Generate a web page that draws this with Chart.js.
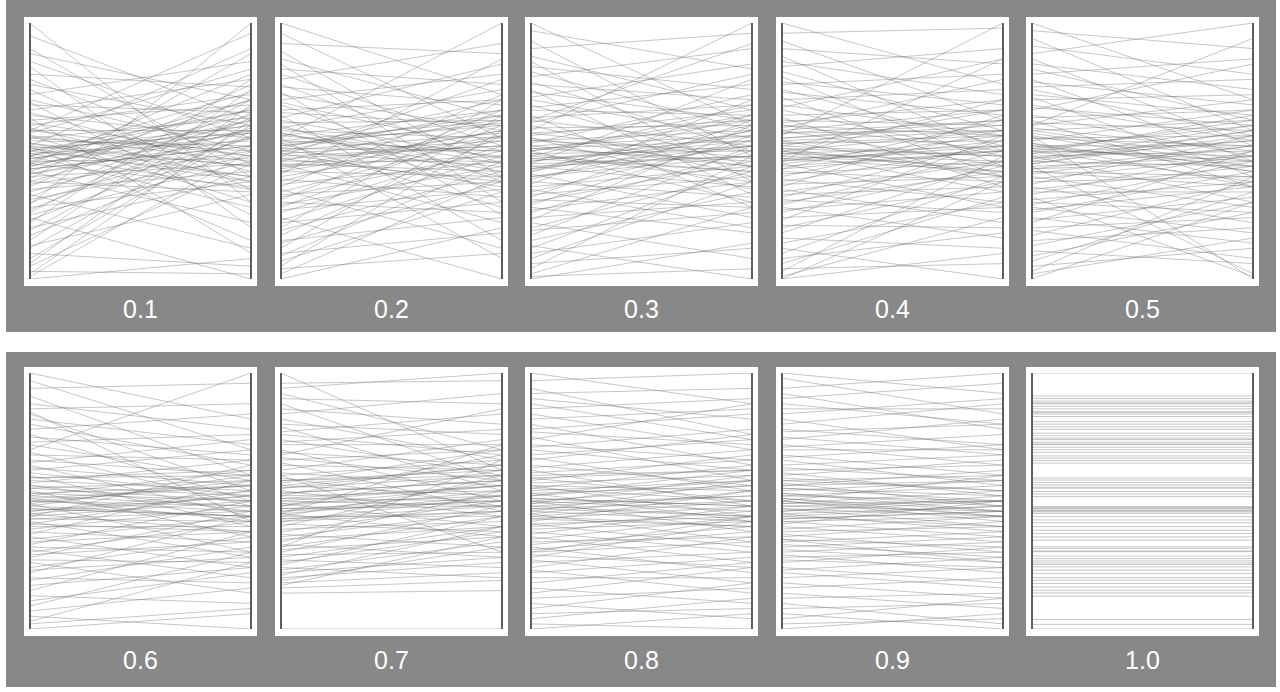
<!DOCTYPE html>
<html><head><meta charset="utf-8">
<script src="https://cdn.jsdelivr.net/npm/chart.js@4.4.1/dist/chart.umd.min.js"></script>
<style>
html,body{margin:0;padding:0;background:#fff;}
body{width:1280px;height:692px;overflow:hidden;position:relative;font-family:"Liberation Sans",Arial,sans-serif;}
.band{position:absolute;left:6px;width:1270px;background:#888888;}
.panel{position:absolute;width:233px;height:269px;background:#fff;}
.panel canvas{display:block;}
.label{position:absolute;width:233px;text-align:center;color:#fff;font-size:25px;line-height:28px;}
</style></head>
<body>
<script>
// ---- data (each axis scaled 0..100) ----
const panelLabels = ['0.1','0.2','0.3','0.4','0.5','0.6','0.7','0.8','0.9','1.0'];

const left01 = [100,0,95,90,88,85,83,80,78,76,74,72,70,69,68,66,65,64,63,62,61,60,59,58,57,56,55,54,53,52,52,51,50,50,49,48,48,47,46,45,45,44,43,42,42,41,40,39,38,38,37,36,35,34,33,32,31,30,29,28,27,26,25,24,23,22,20,19,17,15,13,12,10,8,6,5,3,2,1,58,47,52,44,55,49,41,58,46,53,50,43,56,48,51,45];
const right01 = [30,8,62,40,70,55,20,75,45,60,35,85,50,25,65,78,42,55,10,68,48,72,38,58,82,30,63,52,44,90,15,57,66,40,54,73,28,60,47,80,36,64,52,22,70,58,45,88,62,34,50,76,42,59,12,67,48,55,100,38,63,70,46,0,56,78,40,65,52,74,33,60,5,58,68,45,2,62,50,96,58,44,62,50,35,55,48,70,40,60,52,46,66,38,57];

const left02 = [100,0,96,92,89,86,84,82,80,78,76,75,73,72,70,69,68,66,65,64,63,62,61,60,59,58,57,56,55,54,53,52,51,50,50,49,48,47,46,45,44,43,42,41,40,39,38,37,36,35,34,33,32,31,30,29,28,27,26,24,23,22,20,19,17,15,14,12,10,9,7,5,4,2,55,48,53,45,56,50,42,59,47,54,51,44,57,49,52,46];
const right02 = [72,20,55,88,40,63,30,76,52,92,45,68,25,58,80,50,38,70,60,15,84,47,62,34,74,55,42,66,100,50,28,61,70,44,57,36,78,52,64,22,48,58,40,86,54,32,62,46,72,12,56,38,50,66,26,44,60,35,52,0,48,30,70,42,56,24,38,64,18,46,34,58,10,40,8,52,60,42,48,66,56,45,38,62,50,58,40,54,64,46];

const left03 = [100,0,97,93,90,87,85,83,81,79,77,76,74,73,71,70,68,67,66,64,63,62,61,60,59,58,57,56,55,54,53,52,51,50,50,49,48,47,46,45,44,43,42,41,40,39,38,37,36,35,34,33,32,31,30,29,28,27,26,24,23,22,20,19,17,15,13,12,10,8,6,4,2,1,62,46,51,43,54,48,40,57,45,52,49,42,55,47,50,44];
const right03 = [60,14,82,48,96,66,38,74,58,90,50,70,33,62,84,55,44,76,64,28,68,52,80,40,60,100,47,66,35,58,72,44,54,62,30,50,68,42,56,78,36,52,64,24,48,58,32,70,44,20,54,40,62,28,46,56,18,38,50,30,60,8,42,26,52,34,0,44,22,38,12,48,28,4,92,54,46,60,50,42,52,62,48,56,38,58,44,52,64,48];

const left04 = [100,0,0,1,96,93,90,87,85,83,81,79,77,76,74,73,71,70,68,67,66,64,63,62,61,60,59,58,57,56,55,54,53,52,51,50,50,49,48,47,46,45,44,43,42,41,40,39,38,37,36,35,34,33,32,31,30,29,28,27,26,24,23,21,20,18,16,14,12,10,8,6,4,3,46,49,54,46,57,51,43,60,48,55,52,45,58,50,53,47];
const right04 = [76,10,38,24,98,62,84,50,72,90,58,44,68,80,52,64,40,74,56,86,48,66,36,60,70,50,78,44,58,100,62,40,54,66,48,58,34,52,70,42,56,28,50,62,38,46,58,30,52,40,64,22,46,36,54,26,42,50,16,34,44,28,56,20,38,46,12,30,0,40,18,32,6,48,86,46,58,52,62,40,50,56,44,60,48,54,66,42,56,50];

const left05 = [100,0,97,94,91,88,86,84,82,80,78,77,75,74,72,71,70,68,67,66,64,63,62,61,60,59,58,57,56,55,54,53,52,51,50,50,49,48,47,46,45,44,43,42,41,40,39,38,37,36,35,34,33,32,31,30,29,28,27,26,24,23,22,20,19,17,15,13,11,9,7,5,3,2,60,48,52,45,55,50,42,58,46,53,49,44,56,47,51,43];
const right05 = [70,30,90,58,80,100,52,74,62,86,46,68,78,56,64,40,72,54,60,84,48,66,36,58,70,50,62,44,0,56,66,42,52,60,38,48,64,30,54,44,58,2,46,36,52,28,48,40,56,22,44,34,50,1,38,26,46,18,36,42,14,32,50,24,8,38,20,30,6,26,34,12,40,16,94,50,44,56,52,62,40,46,58,36,54,48,42,60,46,52];

const left06 = [100,0,97,94,91,88,86,84,82,80,78,76,75,73,72,70,69,68,66,65,64,63,62,61,60,59,58,57,56,55,54,53,52,51,50,50,49,48,47,46,45,44,43,42,41,40,39,38,37,36,35,34,33,32,31,30,29,28,27,26,24,23,22,20,19,17,15,13,11,9,7,5,3,2,85,47,53,44,56,50,41,59,46,52,49,43,55,48,51,45];
const right06 = [82,6,70,96,60,78,88,54,72,64,84,50,68,76,58,100,48,66,60,74,44,56,70,52,40,62,54,66,46,58,36,50,62,42,56,48,30,60,44,52,38,64,46,28,54,40,48,34,58,24,44,38,50,30,20,42,34,46,26,14,36,28,44,18,32,24,38,10,22,30,16,0,26,8,42,44,56,50,52,46,38,60,54,48,58,42,50,44,56,52];

const left07 = [100,96,0,94,92,90,88,86,84,82,80,79,77,76,74,73,72,70,69,68,67,66,65,64,62,61,60,59,58,57,56,55,54,53,52,51,50,49,48,47,46,45,44,43,42,41,40,39,38,37,36,35,34,33,32,31,30,29,28,27,26,25,24,23,22,21,20,19,18,17,16,14,32,60,45,48,52,45,55,50,42,58,46,53,49,44,56,47,51,43];
const right07 = [62,97,0,100,70,88,58,80,92,66,76,54,84,68,60,78,72,50,64,86,58,70,46,62,74,56,66,48,60,70,52,64,44,58,68,50,56,40,62,48,54,36,58,46,52,38,60,42,50,32,46,40,54,28,44,36,48,30,40,24,38,44,20,34,28,40,26,32,22,36,19,15,66,30,72,56,54,52,60,48,46,62,50,58,52,44,64,50,56,48];

const left08 = [100,0,97,94,92,90,88,86,84,82,80,78,77,75,74,72,71,70,68,67,66,64,63,62,61,60,59,58,57,56,55,54,53,52,51,50,50,49,48,47,46,45,44,43,42,41,40,39,38,37,36,35,34,33,32,31,30,29,28,27,26,24,23,22,20,18,16,14,12,10,8,6,4,2,30,47,53,44,56,50,41,59,46,52,49,43,55,48,51,45];
const right08 = [88,6,100,76,94,82,74,90,70,86,64,84,72,58,88,66,78,62,74,54,76,56,70,48,66,62,50,68,60,44,64,58,42,62,48,56,38,60,52,44,58,34,50,40,54,32,46,42,30,48,26,44,36,40,22,38,34,24,42,18,30,36,14,28,20,26,10,24,16,4,18,8,12,0,44,50,56,40,54,46,44,62,42,58,52,48,50,44,48,54];

const left09 = [100,98,0,94,92,90,88,86,84,82,80,78,77,75,74,72,71,70,68,67,66,64,63,62,61,60,59,58,57,56,55,54,53,52,51,50,50,49,48,47,46,45,44,43,42,41,40,39,38,37,36,35,34,33,32,31,30,29,28,27,26,24,23,22,20,18,16,14,12,10,8,6,4,2,35,48,52,45,55,50,42,58,46,53,49,44,56,47,51,43];
const right09 = [92,84,6,100,78,96,80,86,90,70,88,72,80,68,82,64,76,70,60,72,56,68,58,64,52,66,54,60,48,62,50,58,46,56,44,60,42,54,50,40,52,38,48,46,36,50,34,44,40,30,42,32,38,28,36,26,34,22,30,24,32,18,28,16,24,12,20,8,14,2,10,0,12,4,26,46,50,48,52,44,44,54,50,48,50,40,58,44,46,46];

const left10 = [100,91,90,89,88.3,88,87,86,85,84.5,84,83,81,80,79,78,76.5,75.5,74.5,74,73,72.3,72,71,70,69,67.6,66.7,65.8,64.8,59,58.2,57.2,56.3,55.4,55,53.7,52.7,51.7,47.8,47.4,47.1,46.5,46.2,45.8,45.2,43.9,42.6,41.5,40,38.6,37.3,36,34.7,32.1,31.5,30.5,30.2,28.5,27.5,26.6,25.8,25.2,24.3,23,21.7,20.1,19.1,17.8,16.4,15.1,14.1,12.8,3.7,1.8,0];
const right10 = [100,91,90,89,88.3,88,87,86,85,84.5,84,83,81,80,79,78,76.5,75.5,74.5,74,73,72.3,72,71,70,69,67.6,66.7,65.8,64.8,59,58.2,57.2,56.3,55.4,55,53.7,52.7,51.7,47.8,47.4,47.1,46.5,46.2,45.8,45.2,43.9,42.6,41.5,40,38.6,37.3,36,34.7,32.1,31.5,30.5,30.2,28.5,27.5,26.6,25.8,25.2,24.3,23,21.7,20.1,19.1,17.8,16.4,15.1,14.1,12.8,3.7,1.8,0];

const leftSeries = [left01,left02,left03,left04,left05,left06,left07,left08,left09,left10];
const rightSeries = [right01,right02,right03,right04,right05,right06,right07,right08,right09,right10];

// ---- layout ----
function addEl(cls, css){
  const d = document.createElement('div');
  d.className = cls;
  Object.assign(d.style, css);
  document.body.appendChild(d);
  return d;
}
addEl('band', {top:'0px', height:'332px'});
addEl('band', {top:'352px', height:'335px'});

panelLabels.forEach((lab, i) => {
  const col = i % 5, row = Math.floor(i / 5);
  const x = Math.round(24 + col * 250.5);
  const y = row === 0 ? 17 : 367;
  const p = addEl('panel', {left:x+'px', top:y+'px'});
  const c = document.createElement('canvas');
  c.width = 233; c.height = 269;
  c.style.width = '233px'; c.style.height = '269px';
  p.appendChild(c);
  const t = addEl('label', {left:x+'px', top:(row === 0 ? 295 : 646)+'px'});
  t.textContent = lab;

  const L = leftSeries[i], R = rightSeries[i];
  const datasets = L.map((v, k) => ({
    data: [{x:0, y:v}, {x:1, y:R[k]}],
    borderColor: 'rgba(100,100,100,0.36)',
    borderWidth: 1,
    pointRadius: 0,
    tension: 0,
    fill: false
  }));
  new Chart(c.getContext('2d'), {
    type: 'line',
    data: {datasets},
    options: {
      responsive: false,
      animation: false,
      events: [],
      layout: {padding: {left: 6, right: 6, top: 6, bottom: 7}},
      plugins: {legend: {display: false}, tooltip: {enabled: false}, title: {display: false}},
      scales: {
        x: {
          type: 'linear', min: 0, max: 1,
          ticks: {display: false, stepSize: 1},
          grid: {color: '#5e5e5e', lineWidth: 2, drawTicks: false, tickLength: 0},
          border: {display: false}
        },
        y: {type: 'linear', min: 0, max: 100, display: false}
      }
    }
  });
});
</script>
</body></html>
